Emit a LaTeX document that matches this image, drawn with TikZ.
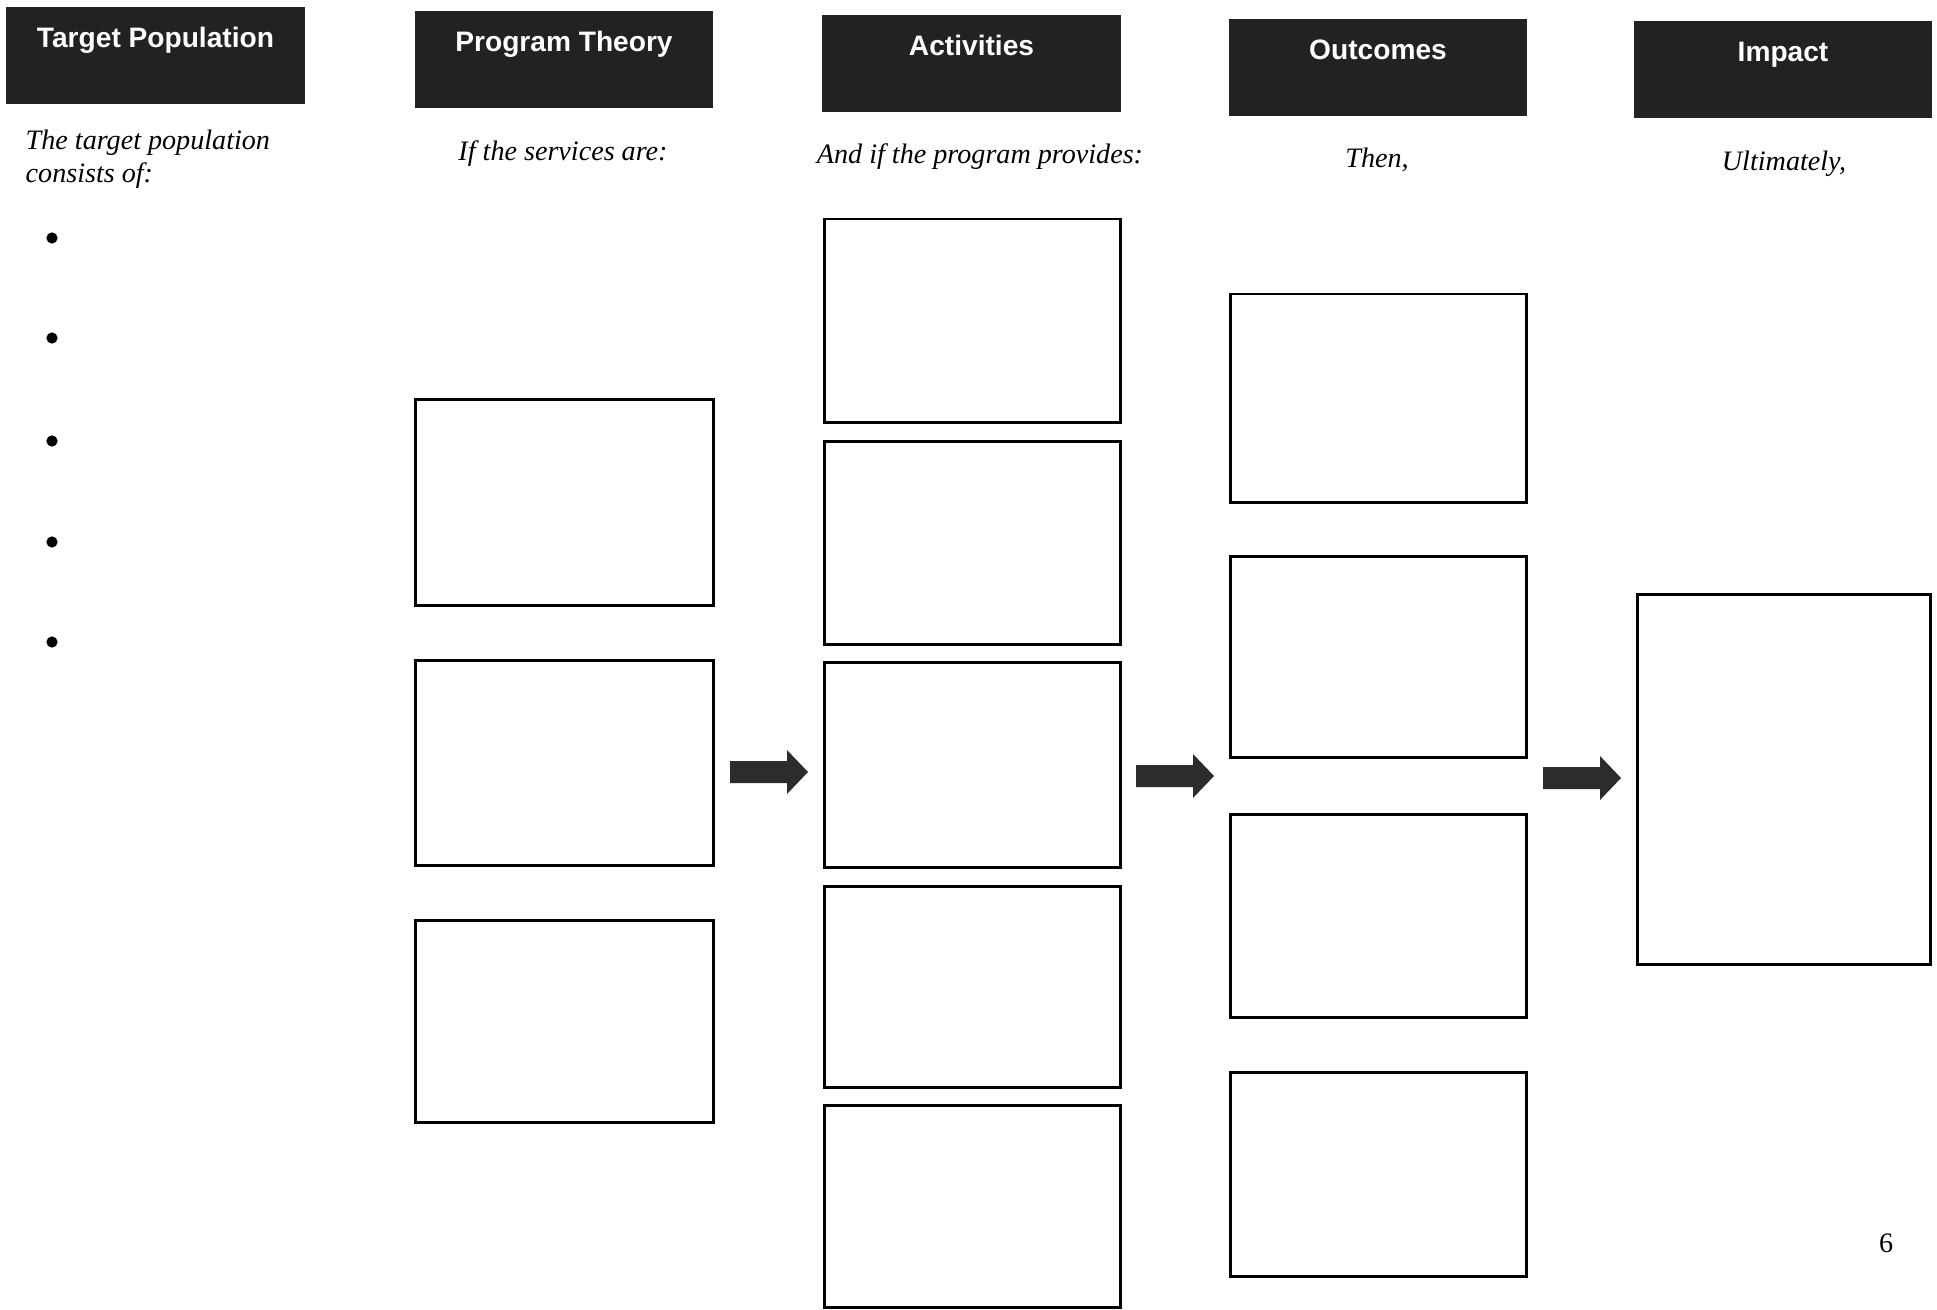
\documentclass[tikz,border=0pt]{standalone}
\usepackage{fontspec}
\setmainfont{Liberation Serif}
\newfontfamily\headfont{Liberation Sans}
\usepackage{xcolor}
\definecolor{inkdark}{RGB}{34,34,34}
\definecolor{arrowdark}{RGB}{44,44,44}

\begin{document}
\begin{tikzpicture}[x=0.01cm, y=-0.01cm,
  header/.style={fill=inkdark, text=white, anchor=north, minimum width=2.98cm,
    inner xsep=0pt, inner ysep=0pt, outer sep=0pt, text height=0.40cm, text depth=0.57cm,
    font=\headfont\bfseries\fontsize{8}{9.6}\selectfont},
  sub/.style={font=\itshape\fontsize{8}{9.25}\selectfont, inner sep=0pt},
  box/.style={draw=black, line width=0.85pt, anchor=north west, inner sep=0pt, outer sep=0pt}]
  \useasboundingbox[fill=white] (0,0) rectangle (1937,1309);

  % column headers
  \node[header] (hTarget) at (155.5,7)  {Target Population};
  \node[header] (hTheory) at (564,11)   {Program Theory};
  \node[header] (hAct)    at (971.5,15) {Activities};
  \node[header] (hOut)    at (1378,19)  {Outcomes};
  \node[header] (hImpact) at (1783,21)  {Impact};

  % lead-in lines
  \node[sub, anchor=west, align=left] (sTarget) at (25,159) {The target population\\consists of:};
  \node[sub] (sTheory) at (563,154)  {If the services are:};
  \node[sub] (sAct)    at (980,157)  {And if the program provides:};
  \node[sub] (sOut)    at (1377,160) {Then,};
  \node[sub] (sImpact) at (1784,164) {Ultimately,};

  % bullets
  \foreach \y in {238, 338, 441, 542, 642} {
    \fill (52,\y) circle (1.6pt);
  }

  % empty boxes
  \foreach \n/\y/\h in {pt1/399/2.06cm, pt2/660/2.05cm, pt3/920/2.02cm} {
    \node[box, minimum width=2.98cm, minimum height=\h] (\n) at (415,\y) {};
  }
  \foreach \n/\y/\h in {act1/219/2.03cm, act2/441/2.03cm, act3/662/2.05cm, act4/886/2.01cm, act5/1105/2.02cm} {
    \node[box, minimum width=2.96cm, minimum height=\h] (\n) at (824,\y) {};
  }
  \foreach \n/\y/\h in {out1/294/2.08cm, out2/556/2.01cm, out3/814/2.03cm, out4/1072/2.04cm} {
    \node[box, minimum width=2.96cm, minimum height=\h] (\n) at (1230,\y) {};
  }
  \node[box, minimum width=2.93cm, minimum height=3.70cm] (imp) at (1637,594) {};

  % block arrows
  \foreach \x/\y in {730/772, 1136/776, 1543/778} {
    \fill[arrowdark] (\x,\y-11) -- ++(57,0) -- ++(0,-11) -- ++(21,22) -- ++(-21,22)
      -- ++(0,-11) -- ++(-57,0) -- cycle;
  }

  % page number
  \node[font=\fontsize{8}{9.6}\selectfont] (pageno) at (1886,1243) {6};
\end{tikzpicture}
\end{document}
